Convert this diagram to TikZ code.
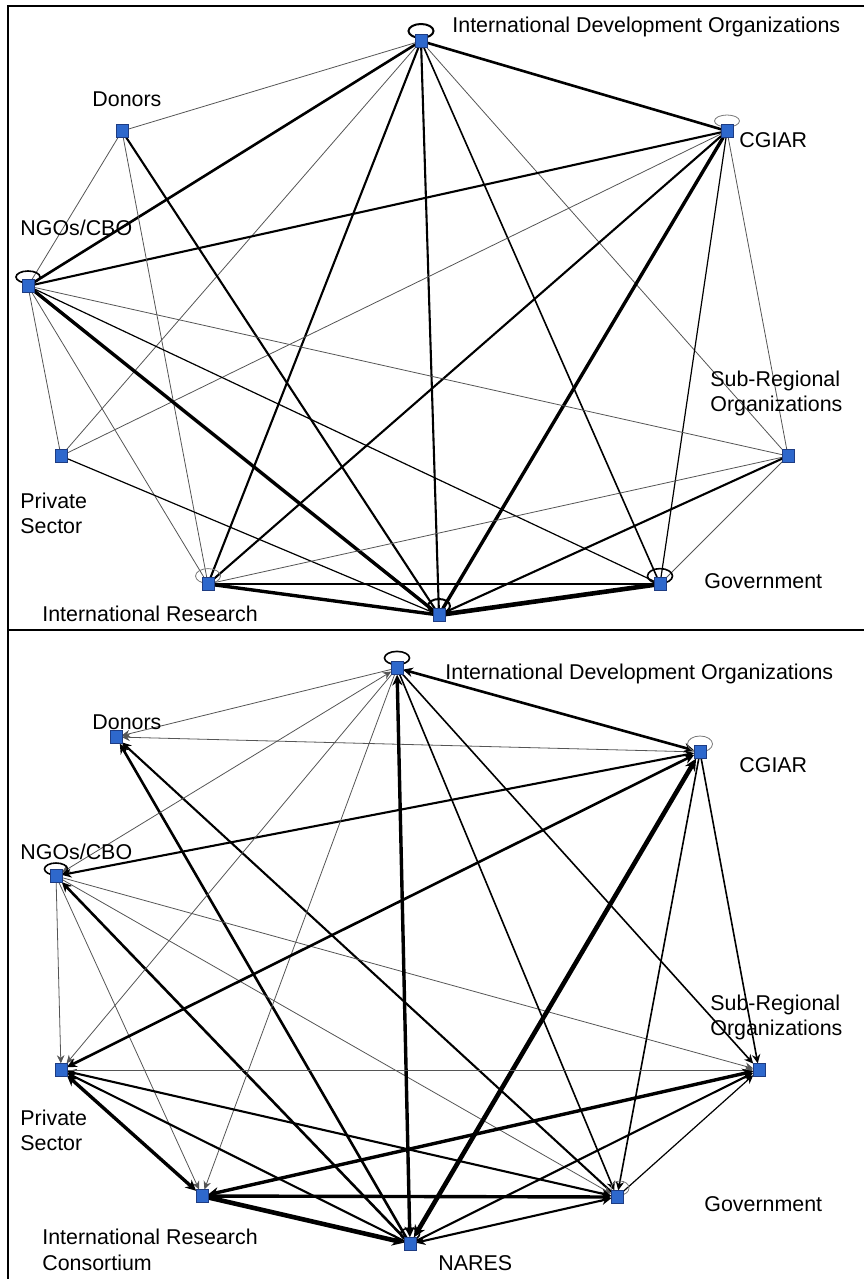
\documentclass[tikz,border=0pt]{standalone}
\usepackage{fontspec}
\setmainfont{Liberation Sans}
\usetikzlibrary{arrows.meta,backgrounds}
\definecolor{nodeblue}{RGB}{46,104,204}
\definecolor{nodeedge}{RGB}{30,60,130}
\definecolor{thingray}{RGB}{85,85,85}
\definecolor{loopgray}{RGB}{120,120,120}
\begin{document}
\begin{tikzpicture}[x=0.5pt,y=-0.5pt,
  sq/.style={draw=nodeedge,line width=0.3pt,fill=nodeblue,minimum width=5.8pt,minimum height=6.6pt,inner sep=0pt,outer sep=0pt},
  lbl/.style={anchor=base west,inner sep=0pt,font=\fontsize{10.7pt}{12.5pt}\selectfont},
  frame/.style={draw=black,line width=1pt},
  e0/.style={draw=thingray,line width=0.4pt},
  e1/.style={draw=black,line width=0.6pt},
  e2/.style={draw=black,line width=0.8pt},
  e3/.style={draw=black,line width=1.05pt},
  e4/.style={draw=black,line width=1.3pt},
  e5/.style={draw=black,line width=1.7pt},
  e6/.style={draw=black,line width=2.3pt},
  ar/.style={-{Stealth[length=3.7pt 1,width=3.4pt 1]}},
  arb/.style={{Stealth[length=3.7pt 1,width=3.4pt 1]}-{Stealth[length=3.7pt 1,width=3.4pt 1]}},
  lpk/.style={draw=black,line width=0.8pt},
  lpg/.style={draw=loopgray,line width=0.4pt},
]
\useasboundingbox (0,0) rectangle (864,1279);

% frames
\coordinate (fTL) at (8,6);
\coordinate (fTR) at (864,6);
\coordinate (fBL) at (8,1279);
\coordinate (fML) at (8,630);
\coordinate (fMR) at (864,630);
\draw[frame] (fTR) -- (fTL) -- (fBL);
\draw[frame] (fML) -- (fMR);

% ---------- top panel nodes ----------
\node[sq] (tI) at (421,41) {};
\node[sq] (tD) at (122,131) {};
\node[sq] (tN) at (28,286) {};
\node[sq] (tC) at (727,131) {};
\node[sq] (tP) at (61,456) {};
\node[sq] (tR) at (208,584) {};
\node[sq] (tS) at (788,456) {};
\node[sq] (tG) at (660,584) {};
\node[sq] (tA) at (439,615) {};

% ---------- bottom panel nodes ----------
\node[sq] (bI) at (397,668) {};
\node[sq] (bD) at (116,737) {};
\node[sq] (bN) at (56,876) {};
\node[sq] (bC) at (700,752) {};
\node[sq] (bP) at (61,1070) {};
\node[sq] (bR) at (202,1196) {};
\node[sq] (bA) at (410,1244) {};
\node[sq] (bG) at (617,1197) {};
\node[sq] (bS) at (759,1070) {};

\begin{scope}[on background layer]
% top edges
\draw[e0] (tI)--(tD);
\draw[e4] (tI)--(tN);
\draw[e4] (tI)--(tC);
\draw[e0] (tI)--(tP);
\draw[e3] (tI)--(tR);
\draw[e3] (tI)--(tA);
\draw[e2] (tI)--(tG);
\draw[e0] (tI)--(tS);
\draw[e3] (tC)--(tN);
\draw[e0] (tC)--(tP);
\draw[e3] (tC)--(tR);
\draw[e5] (tC)--(tA);
\draw[e1] (tC)--(tG);
\draw[e0] (tC)--(tS);
\draw[e0] (tD)--(tN);
\draw[e0] (tD)--(tR);
\draw[e3] (tD)--(tA);
\draw[e0] (tN)--(tP);
\draw[e0] (tN)--(tR);
\draw[e5] (tN)--(tA);
\draw[e1] (tN)--(tG);
\draw[e0] (tN)--(tS);
\draw[e1] (tP)--(tA);
\draw[e0] (tR)--(tS);
\draw[e3] (tR)--(tG);
\draw[e5] (tR)--(tA);
\draw[e3] (tS)--(tA);
\draw[e0] (tS)--(tG);
\draw[e6] (tG)--(tA);
% top loops
\draw[lpk,line width=1pt] ([yshift=5pt]tI.center) ellipse [x radius=6.25pt, y radius=3.5pt];
\draw[lpg] ([yshift=5pt]tC.center) ellipse [x radius=6.25pt, y radius=3pt];
\draw[lpk] ([yshift=4.5pt]tN.center) ellipse [x radius=6pt, y radius=3pt];
\draw[lpg] ([yshift=4pt]tR.center) ellipse [x radius=6.25pt, y radius=3.7pt];
\draw[lpk] ([yshift=4pt]tG.center) ellipse [x radius=6.25pt, y radius=3.7pt];
\draw[lpk,line width=1pt] ([yshift=4.5pt]tA.center) ellipse [x radius=5.5pt, y radius=3.5pt];

% bottom edges
\draw[e0,ar] (bI)--(bD);
\draw[e0,ar] (bC)--(bD);
\draw[e4,ar] (bA)--(bD);
\draw[e3,ar] (bG)--(bD);
\draw[e4,arb] (bI)--(bC);
\draw[e0,arb] (bI)--(bN);
\draw[e3,arb] (bC)--(bN);
\draw[e4,ar] (bA)--(bN);
\draw[e0,ar] (bN)--(bP);
\draw[e0,ar] (bN)--(bR);
\draw[e0,ar] (bN)--(bG);
\draw[e0,ar] (bN)--(bS);
\draw[e0,ar] (bI)--(bP);
\draw[e0,ar] (bI)--(bR);
\draw[e5,arb] (bI)--(bA);
\draw[e2,ar] (bI)--(bG);
\draw[e2,ar] (bI)--(bS);
\draw[e4,arb] (bC)--(bP);
\draw[e6,arb] (bC)--(bA);
\draw[e2,ar] (bC)--(bG);
\draw[e2,ar] (bC)--(bS);
\draw[e5,arb] (bP)--(bR);
\draw[e3,ar] (bA)--(bP);
\draw[e3,arb] (bP)--(bG);
\draw[e0,ar] (bP)--(bS);
\draw[e5,ar] (bR)--(bG);
\draw[e6,ar] (bR)--(bA);
\draw[e5,arb] (bR)--(bS);
\draw[e3,ar] (bA)--(bS);
\draw[e3,arb] (bA)--(bG);
\draw[e1,ar] (bG)--(bS);
% bottom loops
\draw[lpk] ([yshift=5pt]bI.center) ellipse [x radius=6.25pt, y radius=3.3pt];
\draw[lpg] ([yshift=4pt]bC.center) ellipse [x radius=6.25pt, y radius=4pt];
\draw[lpk] ([yshift=3.5pt]bN.center) ellipse [x radius=5.75pt, y radius=3pt];
\draw[lpg] ([xshift=1.5pt,yshift=4.5pt]bG.center) ellipse [x radius=4.5pt, y radius=3.5pt];
\draw[lpk] ([yshift=5pt]bA.center) ellipse [x radius=4.75pt, y radius=3pt];
\end{scope}

% ---------- top labels ----------
\node[lbl] (tIl) at (452,33) {International Development Organizations};
\node[lbl] (tCl) at (739,148) {CGIAR};
\node[lbl] (tDl) at (92,106) {Donors};
\node[lbl] (tNl) at (20,235) {NGOs/CBO};
\node[lbl] (tPl1) at (20,508) {Private};
\node[lbl] (tPl2) at (20,533) {Sector};
\node[lbl] (tRl) at (42,621) {International Research};
\node[lbl] (tSl1) at (710,386) {Sub-Regional};
\node[lbl] (tSl2) at (710,411) {Organizations};
\node[lbl] (tGl) at (704,588) {Government};

% ---------- bottom labels ----------
\node[lbl] (bIl) at (445,679) {International Development Organizations};
\node[lbl] (bCl) at (739,772) {CGIAR};
\node[lbl] (bDl) at (92,729) {Donors};
\node[lbl] (bNl) at (20,859) {NGOs/CBO};
\node[lbl] (bPl1) at (20,1125) {Private};
\node[lbl] (bPl2) at (20,1150) {Sector};
\node[lbl] (bRl1) at (42,1244) {International Research};
\node[lbl] (bRl2) at (42,1270) {Consortium};
\node[lbl] (bSl1) at (710,1010) {Sub-Regional};
\node[lbl] (bSl2) at (710,1035) {Organizations};
\node[lbl] (bGl) at (704,1211) {Government};
\node[lbl] (bAl) at (438,1270) {NARES};
\end{tikzpicture}
\end{document}
